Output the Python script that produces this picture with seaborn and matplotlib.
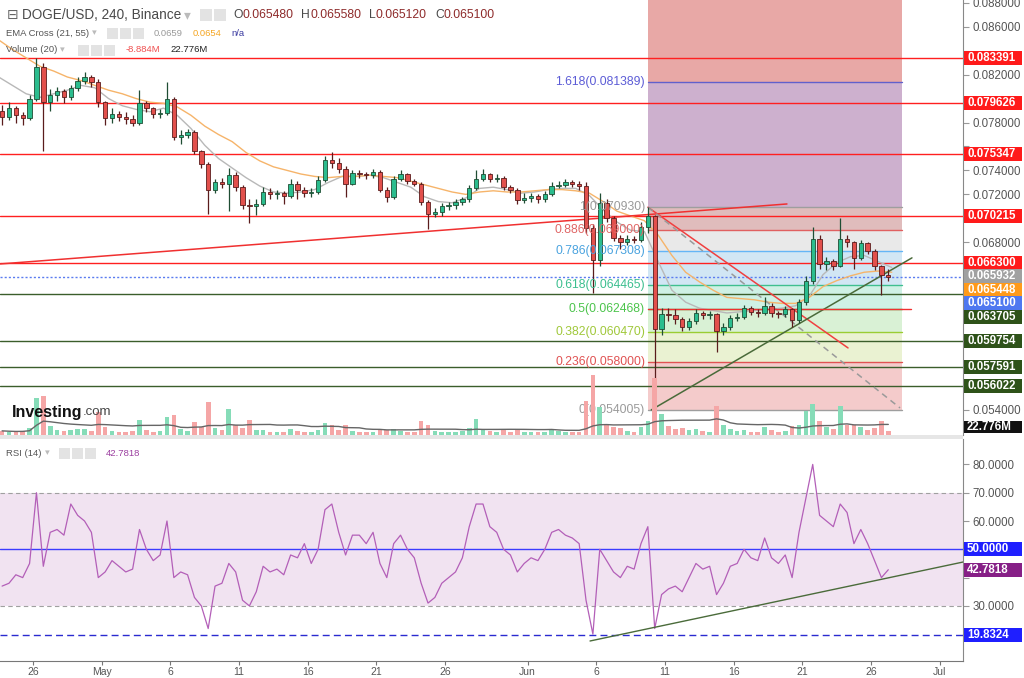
import numpy as np
import pandas as pd
import matplotlib
matplotlib.use("Agg")
import matplotlib.pyplot as plt
import matplotlib.dates as mdates
from matplotlib.patches import Rectangle
import seaborn as sns

# ------------------------------------------------------------------ data
candle_start = "2023-04-23 12:00"   # 12h candles
first_open = 0.0790
closes = [0.0785, 0.0792, 0.0786, 0.0784, 0.0800, 0.0826, 0.0797, 0.0803, 0.0806, 0.0801,
          0.0809, 0.0815, 0.0818, 0.0814, 0.0797, 0.0784, 0.0787, 0.0785, 0.0783, 0.0780,
          0.0796, 0.0792, 0.0787, 0.0788, 0.0800, 0.0768, 0.0770, 0.0772, 0.0756, 0.0745,
          0.0724, 0.0730, 0.0729, 0.0736, 0.0726, 0.0711, 0.0710, 0.0712, 0.0722, 0.0720,
          0.0721, 0.0719, 0.0729, 0.0724, 0.0721, 0.0722, 0.0732, 0.0749, 0.0746, 0.0741,
          0.0729, 0.0738, 0.0737, 0.0736, 0.0739, 0.0724, 0.0718, 0.0733, 0.0737, 0.0731,
          0.0729, 0.0714, 0.0704, 0.0705, 0.0710, 0.0711, 0.0714, 0.0716, 0.0725, 0.0733,
          0.0737, 0.0733, 0.0734, 0.0726, 0.0724, 0.0715, 0.0717, 0.0719, 0.0716, 0.0720,
          0.0727, 0.0728, 0.0730, 0.0729, 0.0727, 0.0692, 0.0665, 0.0713, 0.0700, 0.0684,
          0.0680, 0.0683, 0.0682, 0.0693, 0.0702, 0.0608, 0.0620, 0.0619, 0.0616, 0.0609,
          0.0614, 0.0621, 0.0619, 0.0620, 0.0606, 0.0609, 0.0617, 0.0618, 0.0625, 0.0622,
          0.0621, 0.0627, 0.0621, 0.0620, 0.0624, 0.0615, 0.0630, 0.0648, 0.0683, 0.0662,
          0.0664, 0.0660, 0.0683, 0.0680, 0.0667, 0.0679, 0.0673, 0.0660, 0.0653, 0.0651]
highs = [0.0795, 0.0797, 0.0794, 0.0789, 0.0803, 0.0834, 0.0830, 0.0808, 0.0810, 0.0808,
         0.0811, 0.0818, 0.0822, 0.0820, 0.0816, 0.0798, 0.0792, 0.0790, 0.0789, 0.0786,
         0.0807, 0.0798, 0.0793, 0.0791, 0.0814, 0.0801, 0.0774, 0.0775, 0.0774, 0.0757,
         0.0747, 0.0733, 0.0734, 0.0742, 0.0739, 0.0728, 0.0716, 0.0716, 0.0726, 0.0725,
         0.0724, 0.0723, 0.0733, 0.0731, 0.0726, 0.0725, 0.0735, 0.0752, 0.0755, 0.0750,
         0.0744, 0.0740, 0.0740, 0.0739, 0.0741, 0.0740, 0.0726, 0.0735, 0.0740, 0.0738,
         0.0733, 0.0730, 0.0715, 0.0709, 0.0713, 0.0714, 0.0716, 0.0718, 0.0728, 0.0740,
         0.0741, 0.0738, 0.0737, 0.0735, 0.0728, 0.0725, 0.0721, 0.0721, 0.0720, 0.0723,
         0.0730, 0.0731, 0.0733, 0.0732, 0.0731, 0.0730, 0.0695, 0.0721, 0.0716, 0.0702,
         0.0686, 0.0686, 0.0685, 0.0697, 0.07093, 0.0703, 0.0625, 0.0625, 0.0624, 0.0618,
         0.0617, 0.0624, 0.0623, 0.0623, 0.0621, 0.0613, 0.0619, 0.0621, 0.0628, 0.0627,
         0.0624, 0.0634, 0.0629, 0.0623, 0.0627, 0.0625, 0.0633, 0.0652, 0.0693, 0.0686,
         0.0668, 0.0666, 0.0700, 0.0686, 0.0681, 0.0682, 0.0680, 0.0674, 0.0661, 0.0658]
lows = [0.0778, 0.0782, 0.0780, 0.0778, 0.0782, 0.0798, 0.0756, 0.0790, 0.0798, 0.0796,
        0.0799, 0.0806, 0.0812, 0.0810, 0.0793, 0.0778, 0.0780, 0.0781, 0.0779, 0.0777,
        0.0778, 0.0789, 0.0784, 0.0784, 0.0786, 0.0765, 0.0762, 0.0767, 0.0754, 0.0742,
        0.0704, 0.0721, 0.0725, 0.0706, 0.0723, 0.0708, 0.0696, 0.0703, 0.0710, 0.0716,
        0.0716, 0.0712, 0.0717, 0.0716, 0.0718, 0.0718, 0.0720, 0.0730, 0.0742, 0.0738,
        0.0718, 0.0728, 0.0734, 0.0733, 0.0734, 0.0722, 0.0714, 0.0716, 0.0731, 0.0729,
        0.0727, 0.0711, 0.0691, 0.0701, 0.0702, 0.0707, 0.0708, 0.0711, 0.0714, 0.0724,
        0.0731, 0.0730, 0.0730, 0.0724, 0.0721, 0.0712, 0.0713, 0.0714, 0.0713, 0.0714,
        0.0719, 0.0725, 0.0726, 0.0726, 0.0724, 0.0688, 0.0638, 0.0660, 0.0697, 0.0681,
        0.0674, 0.0678, 0.0679, 0.0680, 0.0688, 0.054005, 0.0603, 0.0614, 0.0612, 0.0606,
        0.0607, 0.0612, 0.0616, 0.0616, 0.0588, 0.0603, 0.0607, 0.0614, 0.0616, 0.0619,
        0.0618, 0.0619, 0.0618, 0.0617, 0.0618, 0.0609, 0.0613, 0.0628, 0.0645, 0.0658,
        0.0657, 0.0657, 0.0659, 0.0676, 0.0658, 0.0665, 0.0670, 0.0657, 0.0636, 0.0648]
volumes_m = [12, 10, 9, 11, 20, 107, 113, 25, 15, 12,
             14, 16, 18, 12, 66, 22, 12, 10, 9, 11,
             43, 14, 10, 11, 52, 58, 16, 12, 38, 22,
             95, 20, 14, 75, 30, 20, 43, 15, 14, 10,
             9, 10, 18, 12, 10, 9, 14, 35, 28, 14,
             30, 12, 9, 8, 10, 16, 14, 18, 12, 10,
             9, 40, 30, 12, 10, 9, 10, 12, 20, 45,
             18, 12, 10, 14, 10, 16, 10, 9, 9, 10,
             16, 12, 10, 9, 10, 100, 175, 80, 30, 24,
             20, 12, 10, 22, 40, 165, 60, 25, 18, 20,
             14, 16, 12, 10, 85, 30, 16, 12, 14, 10,
             9, 22, 14, 10, 12, 26, 30, 70, 90, 40,
             22, 18, 85, 30, 28, 22, 14, 20, 40, 12]
rsi_values = [37, 38, 41, 40, 45, 70, 44, 56, 57, 55,
              66, 62, 60, 56, 40, 42, 46, 44, 42, 43,
              57, 50, 46, 48, 60, 40, 42, 41, 33, 30,
              22, 37, 38, 45, 42, 32, 30, 35, 44, 42,
              43, 41, 48, 47, 52, 45, 50, 64, 66, 56,
              48, 55, 55, 52, 56, 45, 40, 52, 55, 50,
              47, 38, 31, 33, 38, 40, 42, 47, 58, 66,
              66, 58, 56, 50, 48, 42, 45, 47, 46, 50,
              56, 57, 55, 54, 52, 32, 20, 50, 46, 42,
              40, 44, 43, 52, 58, 22, 34, 36, 37, 35,
              40, 45, 43, 44, 34, 38, 44, 45, 50, 47,
              46, 54, 47, 45, 48, 40, 56, 68, 80, 62,
              60, 58, 66, 63, 52, 57, 52, 46, 40, 42.78]

ema_start = "2023-04-23 12:00"      # daily samples
ema21 = [0.0818, 0.0811, 0.0804, 0.0801, 0.0804, 0.0807, 0.0811, 0.0809,
         0.0800, 0.0794, 0.0791, 0.0789, 0.0792, 0.0786, 0.0775, 0.0761, 0.0750, 0.0742,
         0.0734, 0.0727, 0.0722, 0.0721, 0.0722, 0.0724, 0.0730, 0.0735, 0.0735, 0.0736,
         0.0734, 0.0730, 0.0726, 0.0718, 0.0714, 0.0713, 0.0717, 0.0725, 0.0726, 0.0724,
         0.0721, 0.0722, 0.0724, 0.0725, 0.0725, 0.0719, 0.0707, 0.0697, 0.0690, 0.0689,
         0.0664, 0.0640, 0.0630, 0.0625, 0.0623, 0.0621, 0.0622, 0.0623, 0.0624, 0.0625,
         0.0627, 0.0635, 0.0653, 0.0663, 0.0668, 0.0669, 0.0664, 0.0659]
ema55 = [0.0849, 0.0841, 0.0834, 0.0827, 0.0823, 0.0818, 0.0815, 0.0811,
         0.0807, 0.0804, 0.0800, 0.0797, 0.0796, 0.0793, 0.0786, 0.0777, 0.0770, 0.0764,
         0.0755, 0.0748, 0.0743, 0.0740, 0.0737, 0.0735, 0.0734, 0.0735, 0.0735, 0.0736,
         0.0735, 0.0734, 0.0731, 0.0728, 0.0725, 0.0722, 0.0720, 0.0722, 0.0723, 0.0722,
         0.0722, 0.0723, 0.0724, 0.0724, 0.0723, 0.0721, 0.0714, 0.0706, 0.0702, 0.0698,
         0.0686, 0.0669, 0.0655, 0.0647, 0.0640, 0.0634, 0.0633, 0.0632, 0.0630, 0.0629,
         0.0629, 0.0634, 0.0643, 0.0648, 0.0652, 0.0655, 0.0656, 0.0655]

hlines_red = [0.083391, 0.079626, 0.075347, 0.070215, 0.066300]
hlines_green = [0.063705, 0.059754, 0.057591, 0.056022]
last_price = 0.065100
ema21_last = 0.065932
ema55_last = 0.065448
ohlc = [("O", "0.065480"), ("H", "0.065580"), ("L", "0.065120"), ("C", "0.065100")]
ema_legend = ["0.0659", "0.0654", "n/a"]
vol_ma_last = 22.776
vol_change = "-8.884M"

fib_ratios = [0, 0.236, 0.382, 0.5, 0.618, 0.786, 0.886, 1, 1.618]
fib_values = [0.054005, 0.058000, 0.060470, 0.062468, 0.064465, 0.067308, 0.069000, 0.070930, 0.081389]
fib_start, fib_end = "2023-06-09 18:00", "2023-06-28 06:00"

trend_red_up = (["2023-04-23 14:00", "2023-06-19 21:00"], [0.06619, 0.0712])
trend_red_down = (["2023-06-09 18:00", "2023-06-24 07:40"], [0.07093, 0.05918])
trend_gray_dash = (["2023-06-09 18:00", "2023-06-28 02:30"], [0.07093, 0.05417])
trend_green = (["2023-06-10 00:00", "2023-06-28 23:20"], [0.054005, 0.0667])
ray_red = (["2023-06-09 18:00", "2023-06-28 22:00"], [0.06245, 0.06245])

rsi_trend = (["2023-06-05 13:00", "2023-07-02 16:30"], [17.6, 45.5])
rsi_last = 42.7818
rsi_low_line = 19.8324
rsi_ticks = [30, 40, 50, 60, 70, 80]
price_ticks = [0.054, 0.056, 0.058, 0.060, 0.062, 0.064, 0.066, 0.068, 0.070, 0.072,
               0.074, 0.076, 0.078, 0.080, 0.082, 0.084, 0.086, 0.088]

tick_dates = ["2023-04-26", "2023-05-01", "2023-05-06", "2023-05-11", "2023-05-16", "2023-05-21",
              "2023-05-26", "2023-06-01", "2023-06-06", "2023-06-11", "2023-06-16", "2023-06-21",
              "2023-06-26", "2023-07-01"]
tick_labels = ["26", "May", "6", "11", "16", "21", "26", "Jun", "6", "11", "16", "21", "26", "Jul"]

# ------------------------------------------------------------------ style
sns.set_style("white")
plt.rcParams["font.family"] = ["Liberation Sans", "DejaVu Sans"]

W, H = 1024, 678
fig = plt.figure(figsize=(W / 100, H / 100), dpi=100)
fig.patch.set_facecolor("white")

ax = fig.add_axes([0, 1 - 435 / H, 963 / W, 435 / H])
axr = fig.add_axes([0, 1 - 661 / H, 963 / W, (661 - 439) / H], sharex=ax)

def dn(s):
    return mdates.date2num(pd.Timestamp(s))

x_lo, x_hi = dn("2023-04-23 14:20"), dn("2023-07-02 16:30")
y_lo, y_hi = 0.05191, 0.08823

# ------------------------------------------------------------------ candles
dates = pd.date_range(candle_start, periods=len(closes), freq="12h")
cx = mdates.date2num(dates + pd.Timedelta(hours=6))
closes_a = np.array(closes)
opens_a = np.concatenate([[first_open], closes_a[:-1]])
up = closes_a >= opens_a
fill = np.where(up, "#2bbd8e", "#e2504c")
edge = np.where(up, "#1f4d33", "#5a1c1c")
body_lo = np.minimum(opens_a, closes_a)
body_h = np.maximum(np.abs(closes_a - opens_a), 0.00004)

# fib zones
fx0, fx1 = dn(fib_start), dn(fib_end)
fib_fill = ["#f4cbcb", "#eaf2d2", "#d9f1d5", "#cff1e5", "#d1e6f4", "#e9e9e9", "#e0bcbc", "#cdb0ce", "#e8a8a6"]
bounds = fib_values + [0.095]
for i in range(len(fib_values)):
    ax.fill_between([fx0, fx1], bounds[i], bounds[i + 1], color=fib_fill[i], lw=0, zorder=1)
fib_line_c = ["#9e9e9e", "#e05252", "#9acd32", "#4caf50", "#3fbf8f", "#64b5f6", "#e06060", "#9e9e9e", "#6060cc"]
fib_text_c = ["#9a9a9a", "#e05252", "#a0c83a", "#4cc44c", "#3cbf8f", "#4aa3df", "#e06666", "#9a9a9a", "#5c5cd6"]
for r, v, lc, tc in zip(fib_ratios, fib_values, fib_line_c, fib_text_c):
    ax.plot([fx0, fx1], [v, v], color=lc, lw=1, zorder=2)
    ax.annotate(f"{r:g}({v:.6f})", xy=(fx0, v), xytext=(-2, 0), textcoords="offset points",
                ha="right", va="center", fontsize=8.7, color=tc, zorder=6)

# horizontal support / resistance lines
for v in hlines_red:
    ax.axhline(v, color="#ff2020", lw=1, zorder=3)
for v in hlines_green:
    ax.axhline(v, color="#3b5e2b", lw=1, zorder=3)
ax.axhline(last_price, color="#5b7cf0", lw=1, ls=(0, (1.5, 1.5)), zorder=3)

# EMA lines
ema_x = mdates.date2num(pd.date_range(ema_start, periods=len(ema21), freq="D"))
sns.lineplot(x=ema_x, y=ema21, ax=ax, color="#b8b8b8", lw=1, zorder=3.5)
sns.lineplot(x=ema_x, y=ema55, ax=ax, color="#f6b46a", lw=1, zorder=3.5)

# trend lines
def tl(axis, t, **kw):
    axis.plot([dn(s) for s in t[0]], t[1], **kw)

tl(ax, trend_red_up, color="#f03030", lw=1.1, zorder=3.6)
tl(ax, trend_red_down, color="#f04040", lw=1.1, zorder=3.6)
tl(ax, trend_gray_dash, color="#9a9a9a", lw=1.1, ls=(0, (4, 3)), zorder=3.6)
tl(ax, trend_green, color="#4a6b3a", lw=1.1, zorder=3.6)
tl(ax, ray_red, color="#f03030", lw=1, zorder=3.6)

# candles
ax.vlines(cx, lows, highs, colors=edge, lw=0.9, zorder=4)
ax.bar(cx, body_h, bottom=body_lo, width=0.32, color=fill, edgecolor=edge, lw=0.6, zorder=5)

ax.set_xlim(x_lo, x_hi)
ax.set_ylim(y_lo, y_hi)

# volume on twin axis
axv = ax.twinx()
vol_up = np.where(up, "#86dcb8", "#f5a6a6")
axv.bar(cx, volumes_m, width=0.34, color=vol_up, lw=0, zorder=2)
vol_ma = pd.Series(volumes_m, dtype=float).rolling(20, min_periods=1).mean()
sns.lineplot(x=cx, y=vol_ma.values, ax=axv, color="#666666", lw=1)
axv.set_ylim(0, 1262)
axv.set_xlim(x_lo, x_hi)
axv.set_axis_off()

ax.yaxis.tick_right()
ax.tick_params(axis="y", right=True, left=False, labelright=True, labelleft=False,
               length=4, color="#999999", labelsize=8.3, labelcolor="#555555", pad=3)
ax.tick_params(axis="x", bottom=False, labelbottom=False)
for s in ["top", "left", "bottom"]:
    ax.spines[s].set_visible(False)
ax.spines["right"].set_color("#888888")
ax.set_xlabel("")
ax.set_ylabel("")

# ------------------------------------------------------------------ RSI panel
axr.axhspan(30, 70, color="#f1e3f1", lw=0, zorder=1)
axr.axhline(70, color="#a0a0a0", lw=0.8, ls=(0, (4, 3)), zorder=2)
axr.axhline(30, color="#a0a0a0", lw=0.8, ls=(0, (4, 3)), zorder=2)
axr.axhline(50, color="#3b3bff", lw=1, zorder=2)
axr.axhline(rsi_low_line, color="#2a2ad0", lw=1, ls=(0, (5, 3)), zorder=2)
sns.lineplot(x=cx, y=rsi_values, ax=axr, color="#b35fb8", lw=0.9, zorder=3)
tl(axr, rsi_trend, color="#4a6b3a", lw=1, zorder=4)
axr.set_xlim(x_lo, x_hi)
axr.set_ylim(10.53, 88.98)
axr.yaxis.tick_right()
axr.tick_params(axis="y", right=True, left=False, labelright=True, labelleft=False,
                length=4, color="#999999", labelsize=8.3, labelcolor="#555555", pad=3)
axr.set_xticks([dn(s) for s in tick_dates])
axr.set_xticklabels(tick_labels)
axr.tick_params(axis="x", bottom=True, length=3, color="#777777", labelsize=7.5,
                labelcolor="#555555", pad=1.5)
for s in ["top", "left"]:
    axr.spines[s].set_visible(False)
axr.spines["right"].set_color("#888888")
axr.spines["bottom"].set_color("#777777")
axr.set_xlabel("")
axr.set_ylabel("")

# ------------------------------------------------------------------ overlay (pixel space)
ov = fig.add_axes([0, 0, 1, 1], zorder=20)
ov.set_xlim(0, W)
ov.set_ylim(H, 0)
ov.set_axis_off()
ov.add_patch(Rectangle((0, 435), 963, 4, fc="#e6e6e6", ec="none"))

def ypx(axis, v):
    return H - axis.transData.transform((axis.get_xlim()[0], v))[1]

def price_boxes(axis, items, spacing, fmt):
    items = sorted(items, key=lambda t: -t[0])
    prev = None
    ys = []
    for v, c in items:
        y = ypx(axis, v)
        if prev is not None and y < prev + spacing:
            y = prev + spacing
        prev = y
        ys.append(y)
        ov.add_patch(Rectangle((963.5, y - 7), 58, 14, fc=c, ec="none"))
        ov.text(967, y, fmt(v), color="white", fontsize=8.3, fontweight="bold", va="center", ha="left")
    return ys

def tick_labels_free(axis, ticks, box_ys, fmt, gap=12):
    labels = []
    for t in ticks:
        y = ypx(axis, t)
        labels.append("" if any(abs(y - b) < gap for b in box_ys) else fmt(t))
    axis.set_yticks(ticks)
    axis.set_yticklabels(labels)

red = "#ff1a1a"
green = "#2e5219"
main_items = [(v, red) for v in hlines_red] + [(v, green) for v in hlines_green] + \
             [(ema21_last, "#a0a0a0"), (ema55_last, "#ff9a1a"), (last_price, "#4f78f0")]
ys_main = price_boxes(ax, main_items, 13.5, lambda v: f"{v:.6f}")
ys_rsi = price_boxes(axr, [(50.0, "#1f1fff"), (rsi_last, "#861f86"), (rsi_low_line, "#1f1fff")], 13.5,
                     lambda v: f"{v:.4f}")
yv = ypx(axv, vol_ma_last)
ov.add_patch(Rectangle((963.5, yv - 6), 58, 12, fc="#111111", ec="none"))
ov.text(967, yv, f"{vol_ma_last:.3f}M", color="white", fontsize=8.3, fontweight="bold", va="center")

tick_labels_free(ax, price_ticks, ys_main + [yv], lambda v: f"{v:.6f}")
tick_labels_free(axr, rsi_ticks, ys_rsi, lambda v: f"{v:.4f}")

# legends
def chain(x, y, parts, size):
    prev = None
    for s, c, g, fam, wt in parts:
        kw = dict(color=c, fontsize=size if not isinstance(g, tuple) else g[1], va="center",
                  ha="left", fontweight=wt)
        gap = g if not isinstance(g, tuple) else g[0]
        if fam:
            kw["family"] = fam
        if prev is None:
            prev = ov.text(x, y, s, **kw)
        else:
            prev = ov.annotate(s, xy=(1, 0.5), xycoords=prev, xytext=(gap, 0),
                               textcoords="offset pixels", **kw)
    return prev

def icons(x, y, n, size=12):
    for i in range(n):
        ov.add_patch(Rectangle((x + i * (size + 2), y - size / 2), size, size, fc="#e3e3e3", ec="none"))

ov.text(7, 15, "\u229f", fontsize=10, color="#666666", va="center", family=["DejaVu Sans"])
chain(22, 15, [("DOGE/USD, 240, Binance", "#4a4a4a", 0, None, "normal"),
               ("\u25be", "#bbbbbb", 3, ["DejaVu Sans"], "normal")], 9.8)
icons(200, 15, 2)
parts = []
for i, (k, v) in enumerate(ohlc):
    parts.append((k, "#4a4a4a", 0 if i == 0 else 8, None, "normal"))
    parts.append((v, "#8e2b2b", 0, None, "normal"))
chain(233, 15, parts, 8.7)

chain(6, 33, [("EMA Cross (21, 55)", "#555555", 0, None, "normal"),
              ("\u25be", "#bbbbbb", 3, ["DejaVu Sans"], "normal")], 6.8)
icons(107, 33, 3, 11)
ov.text(154, 33, ema_legend[0], color="#9a9a9a", fontsize=6.8, va="center")
ov.text(193, 33, ema_legend[1], color="#f5a623", fontsize=6.8, va="center")
ov.text(231, 33, ema_legend[2], color="#3a3aa0", fontsize=6.8, va="center")

chain(6, 50, [("Volume (20)", "#555555", 0, None, "normal"),
              ("\u25be", "#bbbbbb", 3, ["DejaVu Sans"], "normal")], 6.8)
icons(78, 50, 3, 11)
ov.text(126, 50, vol_change, color="#f05050", fontsize=6.8, va="center")
ov.text(170, 50, f"{vol_ma_last:.3f}M", color="#222222", fontsize=6.8, va="center")

chain(6, 453, [("RSI (14)", "#555555", 0, None, "normal"),
               ("\u25be", "#bbbbbb", 3, ["DejaVu Sans"], "normal")], 6.8)
icons(59, 453, 3, 11)
ov.text(106, 453, f"{rsi_last:.4f}", color="#9c3fa0", fontsize=6.8, va="center")

# watermark logo
chain(12, 412, [("Investing", "#111111", 0, None, "bold"),
                (".com", "#444444", (0, 9.5), None, "normal")], 11.5)

fig.savefig("out.png", dpi=100, facecolor="white")
